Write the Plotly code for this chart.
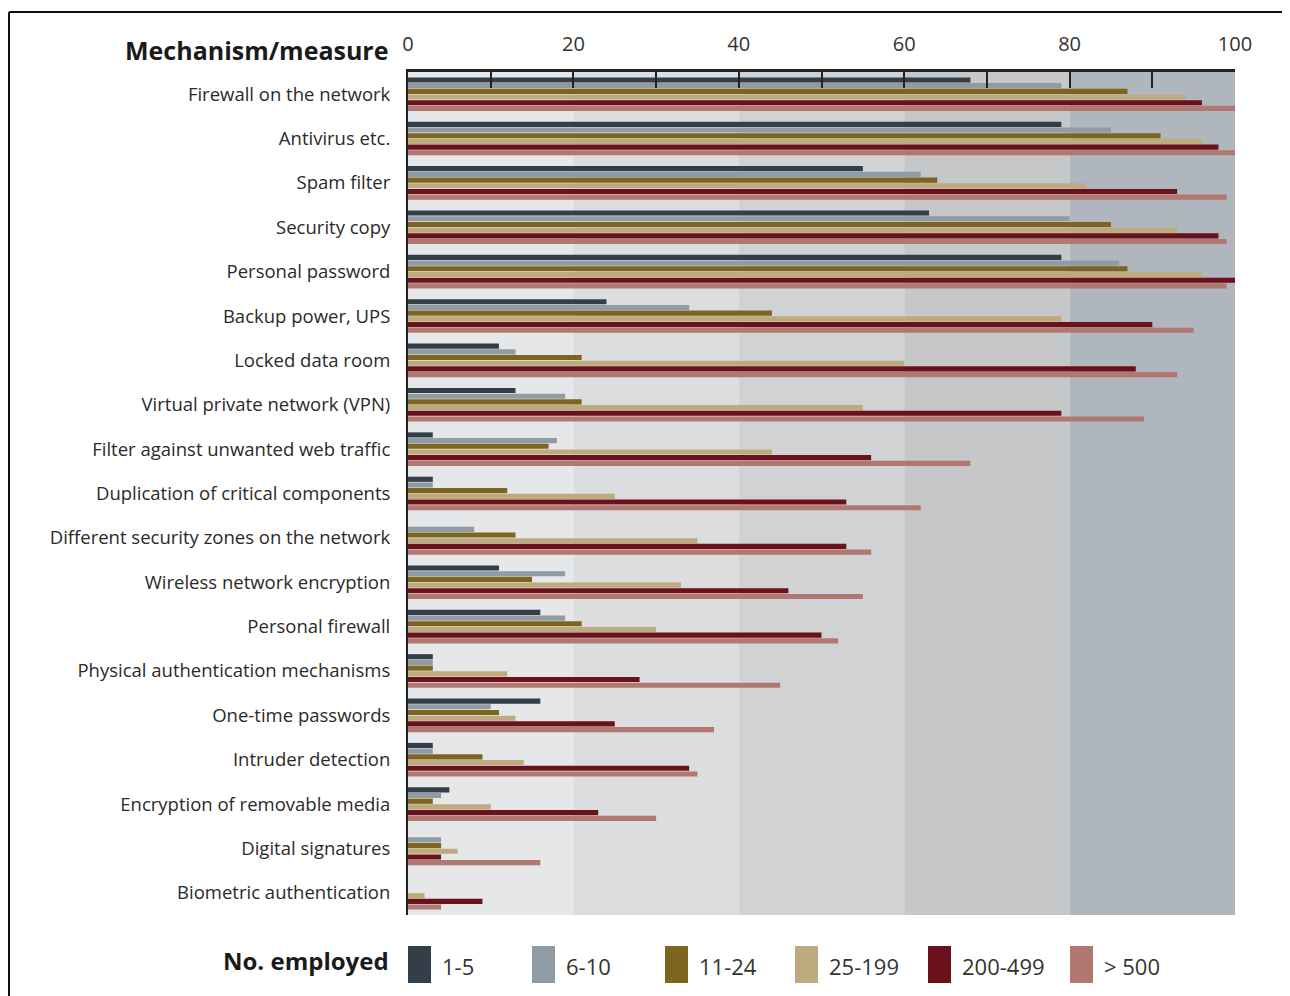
import plotly.graph_objects as go

categories = [
    "Firewall on the network",
    "Antivirus etc.",
    "Spam filter",
    "Security copy",
    "Personal password",
    "Backup power, UPS",
    "Locked data room",
    "Virtual private network (VPN)",
    "Filter against unwanted web traffic",
    "Duplication of critical components",
    "Different security zones on the network",
    "Wireless network encryption",
    "Personal firewall",
    "Physical authentication mechanisms",
    "One-time passwords",
    "Intruder detection",
    "Encryption of removable media",
    "Digital signatures",
    "Biometric authentication",
]

series_names = ["1-5", "6-10", "11-24", "25-199", "200-499", "> 500"]
series_colors = ["#333f48", "#919ba3", "#7d6520", "#bdab7f", "#6b111b", "#b07870"]

v_1_5 =     [68, 79, 55, 63, 79, 24, 11, 13, 3, 3, 0, 11, 16, 3, 16, 3, 5, 0, 0]
v_6_10 =    [79, 85, 62, 80, 86, 34, 13, 19, 18, 3, 8, 19, 19, 3, 10, 3, 4, 4, 0]
v_11_24 =   [87, 91, 64, 85, 87, 44, 21, 21, 17, 12, 13, 15, 21, 3, 11, 9, 3, 4, 0]
v_25_199 =  [94, 96, 82, 93, 96, 79, 60, 55, 44, 25, 35, 33, 30, 12, 13, 14, 10, 6, 2]
v_200_499 = [96, 98, 93, 98, 100, 90, 88, 79, 56, 53, 53, 46, 50, 28, 25, 34, 23, 4, 9]
v_500 =     [100, 100, 99, 99, 99, 95, 93, 89, 68, 62, 56, 55, 52, 45, 37, 35, 30, 16, 4]

series_values = [v_1_5, v_6_10, v_11_24, v_25_199, v_200_499, v_500]

band_edges = [0, 20, 40, 60, 80, 100]
band_colors = ["#e6e7e8", "#dcdddf", "#d1d2d4", "#c6c7c9", "#b0b6bd"]

x_ticks = [0, 20, 40, 60, 80, 100]

FONT = "'Open Sans', Roboto, sans-serif"
TXT = "#222222"

# page offset of the plot div (browser body margin)
OFF = 8
FIG_W, FIG_H = 1290 - OFF, 996 - OFF

fig = go.Figure()
for name, color, vals in zip(series_names, series_colors, series_values):
    fig.add_trace(go.Bar(
        y=categories, x=vals, name=name, orientation="h",
        marker=dict(color=color, line=dict(width=0)),
        showlegend=False,
    ))

shapes = []
for i, c in enumerate(band_colors):
    shapes.append(dict(type="rect", xref="x", yref="paper",
                       x0=band_edges[i], x1=band_edges[i + 1], y0=0, y1=1,
                       fillcolor=c, line=dict(width=0), layer="below"))

# plot area geometry in screen pixels
L, R, T, B = 408, 1235, 72, 915
W, H = R - L, B - T


def px(xp):
    return (xp - L) / W


def py(yp):
    return (B - yp) / H


# outer frame (top and left)
shapes.append(dict(type="line", xref="paper", yref="paper",
                   x0=px(9), x1=px(1300), y0=py(12), y1=py(12),
                   line=dict(color="#111111", width=2)))
shapes.append(dict(type="line", xref="paper", yref="paper",
                   x0=px(9), x1=px(9), y0=py(12), y1=py(1000),
                   line=dict(color="#111111", width=2)))

annotations = []
annotations.append(dict(text="<b>Mechanism/measure</b>", xref="paper", yref="paper",
                        x=px(391), y=py(50), xanchor="right", yanchor="middle",
                        showarrow=False, font=dict(family=FONT, size=25, color="#1a1a1a")))
annotations.append(dict(text="<b>No. employed</b>", xref="paper", yref="paper",
                        x=px(391), y=py(960), xanchor="right", yanchor="middle",
                        showarrow=False, font=dict(family=FONT, size=24, color="#1a1a1a")))

# custom legend
sw_x = [408, 532, 665, 795, 928, 1070]
for xs, name, color in zip(sw_x, series_names, series_colors):
    shapes.append(dict(type="rect", xref="paper", yref="paper",
                       x0=px(xs), x1=px(xs + 23), y0=py(946), y1=py(983),
                       fillcolor=color, line=dict(width=0)))
    annotations.append(dict(text=name, xref="paper", yref="paper",
                            x=px(xs + 32), y=py(966), xanchor="left", yanchor="middle",
                            showarrow=False, font=dict(family=FONT, size=22, color="#333333")))

fig.update_layout(
    width=FIG_W, height=FIG_H,
    margin=dict(l=L - OFF, r=FIG_W - (R - OFF), t=T - OFF, b=FIG_H - (B - OFF), pad=0),
    barmode="group", bargap=0.23, bargroupgap=0.1,
    paper_bgcolor="white", plot_bgcolor="white",
    font=dict(family=FONT, size=18, color=TXT),
    shapes=shapes, annotations=annotations,
    xaxis=dict(side="top", range=[0, 100], tickvals=x_ticks,
               ticks="inside", ticklen=16, tickwidth=2, tickcolor="#222222",
               minor=dict(dtick=10, tick0=0, ticks="inside", ticklen=16,
                          tickwidth=2, tickcolor="#222222"),
               showline=True, linecolor="#222222", linewidth=3,
               showgrid=False, zeroline=False,
               tickfont=dict(family=FONT, size=20, color="#333333"),
               ticklabelstandoff=10, fixedrange=True),
    yaxis=dict(autorange="reversed", showline=True, linecolor="#222222", linewidth=2,
               showgrid=False, zeroline=False, ticks="",
               tickfont=dict(family=FONT, size=18.5, color="#2a2a2a"),
               ticklabelstandoff=12, fixedrange=True),
)

fig.write_html("out.html")
